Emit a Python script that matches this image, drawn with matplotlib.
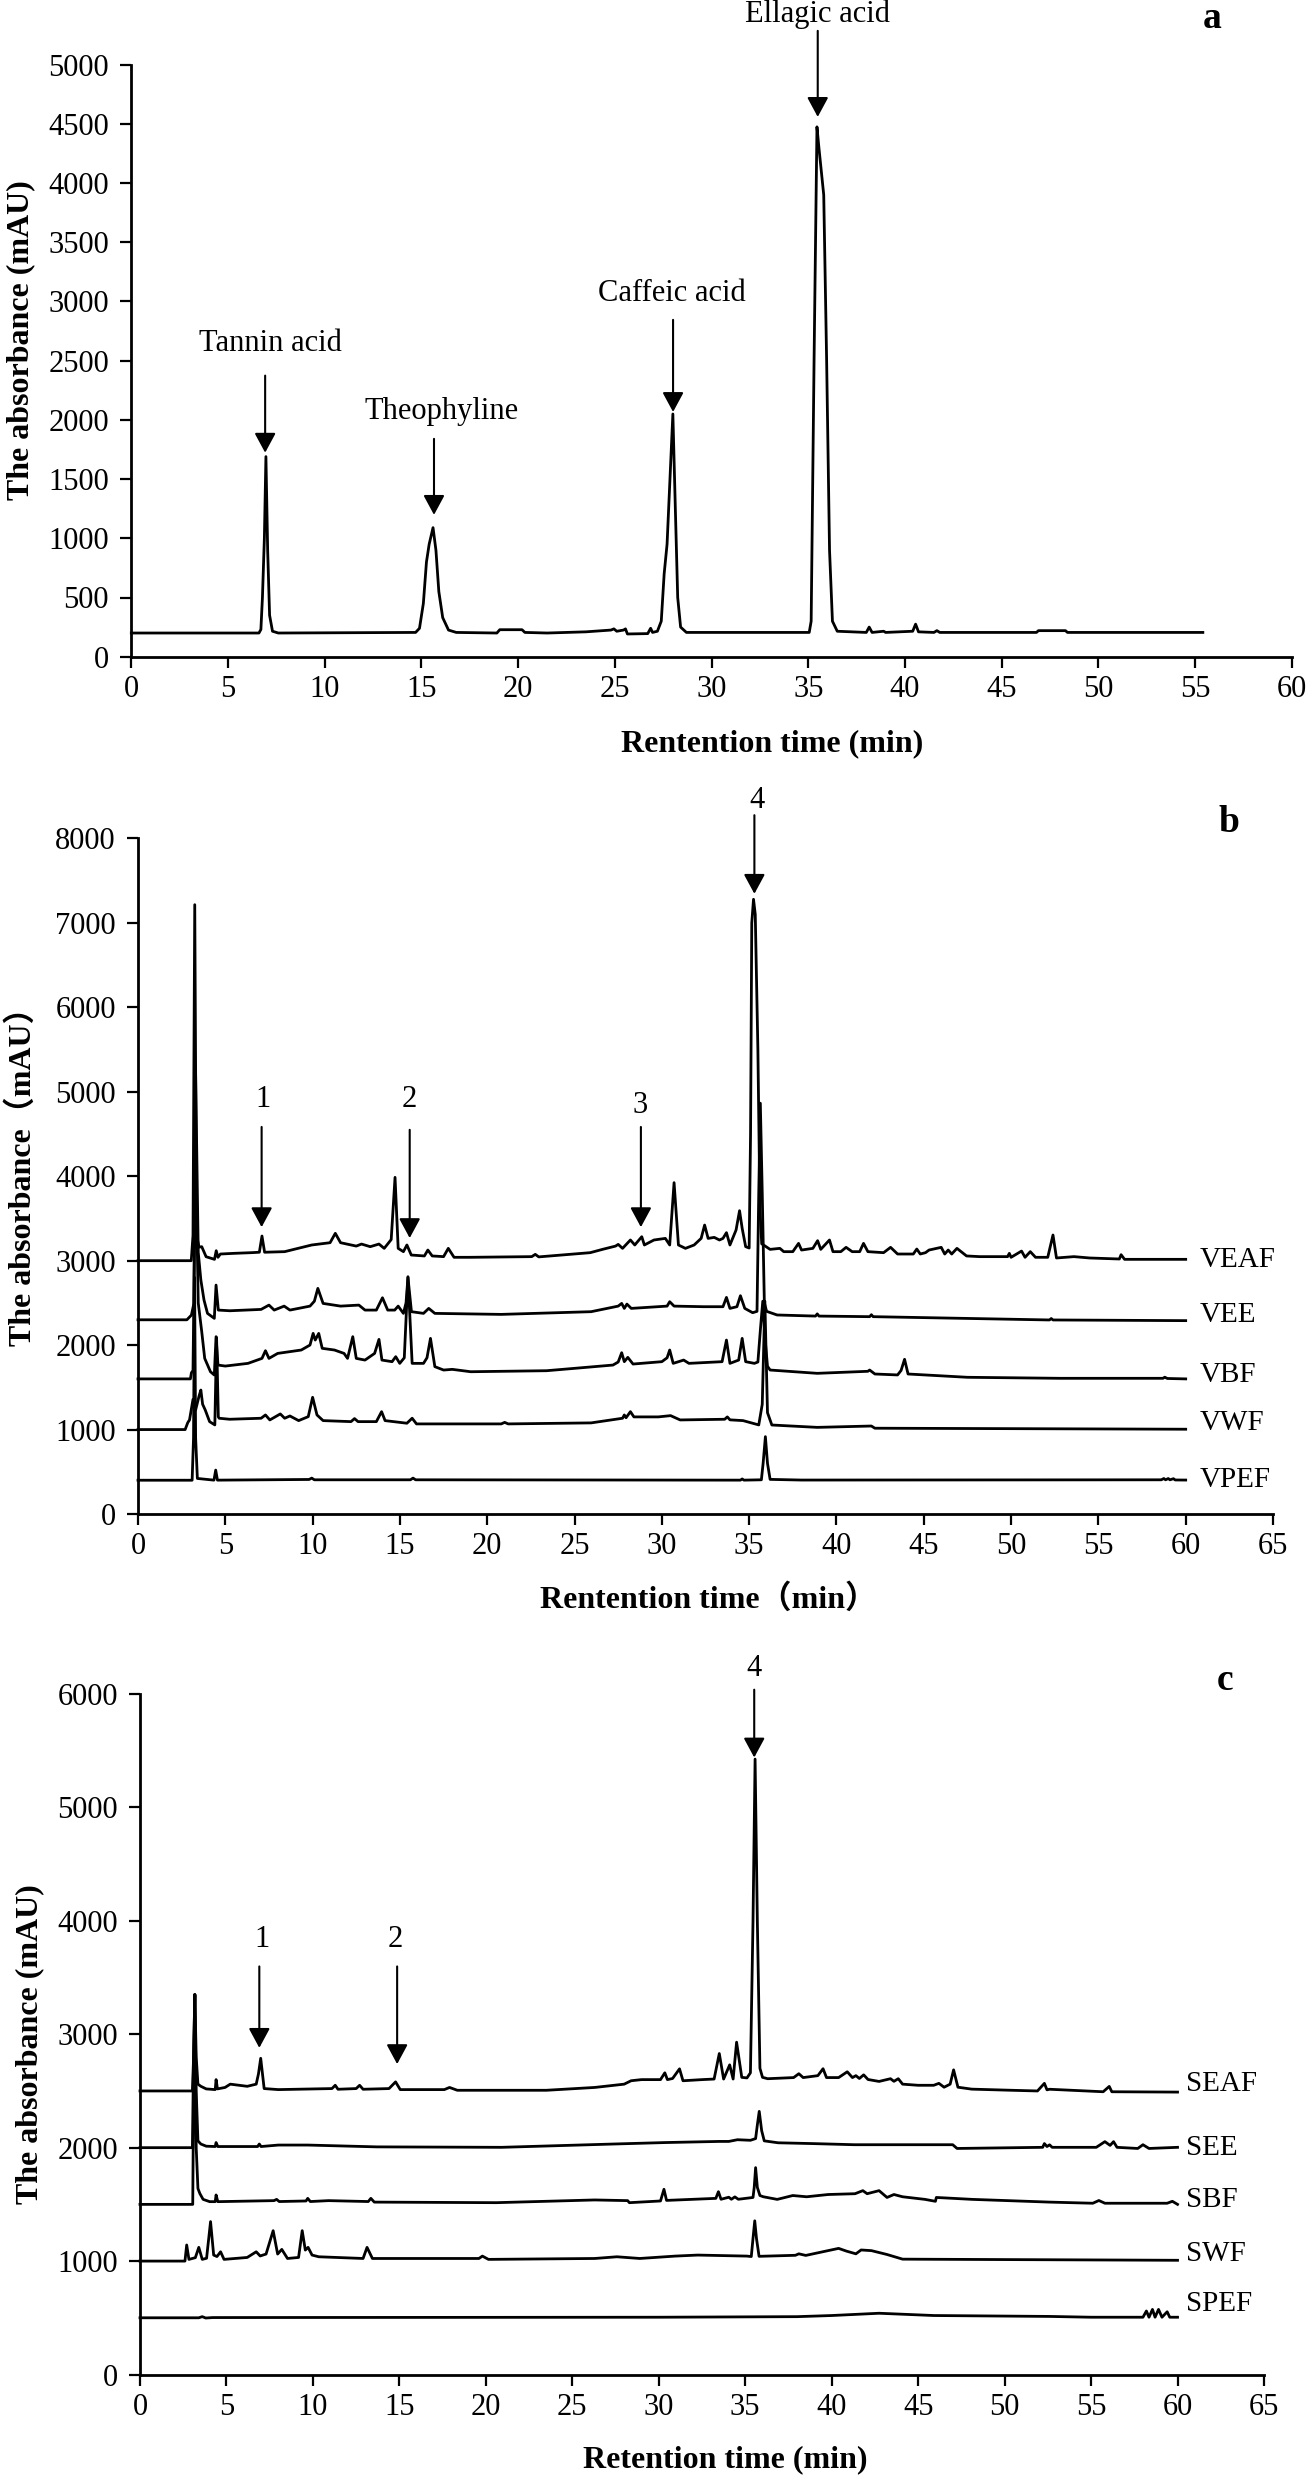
import matplotlib
matplotlib.use('Agg')
import matplotlib.pyplot as plt

# ---------------- data (time in min, absorbance in mAU) ----------------
# Panel a: standards
STD = [(0, 200), (6.6, 200), (6.7, 230), (6.78, 500), (6.88, 1000), (6.96, 1690), (7.05, 900),
       (7.15, 350), (7.3, 215), (7.6, 200),
       (14.7, 205), (14.9, 240), (15.1, 450), (15.26, 800), (15.4, 950), (15.6, 1090), (15.75, 900),
       (15.9, 550), (16.1, 330), (16.4, 225), (16.8, 205),
       (18.9, 200), (19.05, 228), (20.2, 228), (20.35, 205), (21.5, 200), (23.5, 210), (24.8, 225),
       (24.95, 235), (25.1, 215), (25.45, 225), (25.55, 235), (25.65, 192), (26.7, 195), (26.85, 240),
       (26.95, 205), (27.2, 215), (27.4, 300), (27.55, 700), (27.7, 950), (27.85, 1500), (28.0, 2050),
       (28.12, 1300), (28.25, 500), (28.4, 250), (28.7, 205),
       (35.05, 205), (35.15, 300), (35.3, 2500), (35.45, 4475), (35.55, 4300), (35.8, 3900),
       (35.95, 2500), (36.1, 900), (36.25, 300), (36.5, 215),
       (38.0, 205), (38.15, 250), (38.3, 205), (38.9, 215), (39.0, 205), (40.4, 215), (40.55, 275),
       (40.7, 210), (41.5, 205), (41.65, 220), (41.8, 205), (46.8, 205), (46.9, 220), (48.3, 220),
       (48.4, 205), (55.4, 205)]
STD_NAMES = ["Tannin acid", "Theophyline", "Caffeic acid", "Ellagic acid"]
STD_LABEL_POS = [(7.17, 2647), (16.04, 2067), (27.93, 3067), (35.49, 5429)]
STD_ARROWS = [(6.92, 2374, 1723), (15.65, 1840, 1198), (28.01, 2845, 2067), (35.49, 5286, 4559)]

# Panel b: V fractions
VEAF = [(0, 3000), (3.05, 3000), (3.15, 3300), (3.25, 7216), (3.35, 3300), (3.5, 3160), (3.65, 3166),
        (3.9, 3047), (4.38, 3016), (4.48, 3118), (4.58, 3040), (4.72, 3079), (5.5, 3087), (6.5, 3095),
        (6.95, 3100), (7.1, 3292), (7.25, 3100), (8.4, 3107), (9.95, 3186), (11.0, 3213), (11.3, 3324),
        (11.6, 3213), (12.5, 3173), (12.8, 3197), (13.3, 3166), (13.8, 3197), (14.1, 3146), (14.5, 3250),
        (14.72, 3987), (14.9, 3146), (15.2, 3107), (15.4, 3186), (15.65, 3067), (16.4, 3056), (16.6, 3126),
        (16.85, 3056), (17.5, 3048), (17.77, 3146), (18.1, 3040), (19.0, 3040), (22.55, 3048),
        (22.75, 3075), (22.95, 3045), (23.6, 3056), (25.9, 3095), (26.6, 3134), (27.35, 3173),
        (27.5, 3193), (27.75, 3146), (28.2, 3245), (28.45, 3186), (28.85, 3284), (29.0, 3186),
        (29.55, 3245), (30.2, 3264), (30.45, 3186), (30.7, 3924), (30.95, 3186), (31.35, 3146),
        (31.85, 3186), (32.25, 3264), (32.45, 3422), (32.65, 3264), (33.0, 3276), (33.3, 3245),
        (33.5, 3264), (33.7, 3332), (33.9, 3186), (34.25, 3363), (34.45, 3592), (34.6, 3383),
        (34.8, 3166), (35.0, 3150), (35.08, 4500), (35.15, 7000), (35.25, 7280), (35.35, 7100),
        (35.5, 5500), (35.62, 3600), (35.72, 3200), (36.2, 3134), (36.76, 3146), (36.98, 3107),
        (37.5, 3107), (37.83, 3205), (38.0, 3126), (38.65, 3146), (38.92, 3237), (39.1, 3134),
        (39.6, 3245), (39.8, 3107), (40.25, 3107), (40.55, 3158), (40.9, 3107), (41.33, 3107),
        (41.55, 3205), (41.8, 3107), (42.7, 3095), (43.1, 3158), (43.5, 3079), (44.4, 3079),
        (44.6, 3138), (44.8, 3079), (45.1, 3095), (45.3, 3126), (46.0, 3158), (46.2, 3079), (46.4, 3126),
        (46.6, 3079), (46.9, 3146), (47.45, 3056), (48.2, 3048), (49.8, 3048), (49.9, 3087), (50.0, 3040),
        (50.6, 3114), (50.8, 3040), (51.1, 3107), (51.4, 3040), (52.1, 3040), (52.4, 3304), (52.6, 3032),
        (53.6, 3048), (54.5, 3032), (56.2, 3020), (56.3, 3071), (56.5, 3016), (60.0, 3016)]
VEE = [(0, 2300), (2.8, 2300), (3.06, 2356), (3.2, 2494), (3.3, 5200), (3.45, 3100), (3.6, 2770),
       (3.78, 2534), (3.98, 2376), (4.37, 2317), (4.47, 2711), (4.6, 2415), (5.26, 2407), (7.05, 2423),
       (7.5, 2474), (7.8, 2415), (8.37, 2462), (8.7, 2415), (9.85, 2462), (10.1, 2520), (10.3, 2672),
       (10.6, 2494), (11.6, 2462), (12.65, 2474), (13.0, 2415), (13.65, 2415), (14.0, 2561), (14.3, 2415),
       (14.7, 2415), (14.9, 2462), (15.2, 2376), (15.35, 2500), (15.46, 2802), (15.66, 2396),
       (16.35, 2376), (16.65, 2435), (17.0, 2376), (20.8, 2364), (25.95, 2396), (27.5, 2462),
       (27.7, 2494), (27.85, 2435), (28.0, 2486), (28.25, 2435), (30.3, 2462), (30.45, 2514),
       (30.7, 2462), (32.4, 2455), (33.5, 2455), (33.7, 2565), (33.9, 2435), (34.3, 2455), (34.5, 2585),
       (34.75, 2435), (35.2, 2384), (35.45, 2400), (35.55, 3800), (35.64, 4865), (35.75, 3800),
       (35.87, 2500), (36.0, 2400), (36.6, 2357), (38.8, 2344), (38.9, 2370), (39.0, 2344), (41.9, 2337),
       (42.0, 2360), (42.1, 2337), (52.2, 2298), (52.3, 2315), (52.4, 2298), (60.0, 2290)]
VBF = [(0, 1600), (3.0, 1600), (3.06, 1673), (3.15, 1700), (3.3, 4300), (3.45, 2500), (3.65, 2159),
       (3.82, 1843), (4.15, 1685), (4.37, 1646), (4.47, 2100), (4.58, 1764), (5.0, 1752), (6.3, 1784),
       (7.1, 1843), (7.3, 1934), (7.5, 1843), (8.0, 1902), (9.35, 1942), (9.85, 2001), (10.03, 2139),
       (10.15, 2060), (10.35, 2139), (10.55, 1962), (11.25, 1942), (11.8, 1902), (12.0, 1843),
       (12.3, 2100), (12.5, 1843), (13.0, 1823), (13.55, 1902), (13.8, 2068), (13.97, 1823), (14.55, 1804),
       (14.76, 1863), (14.99, 1784), (15.25, 1850), (15.46, 2810), (15.7, 1784), (16.35, 1784),
       (16.55, 1850), (16.75, 2080), (17.0, 1745), (17.5, 1705), (18.0, 1713), (19.05, 1685),
       (23.4, 1697), (25.0, 1725), (27.2, 1764), (27.5, 1800), (27.7, 1910), (27.85, 1804), (28.05, 1855),
       (28.35, 1776), (30.0, 1804), (30.3, 1850), (30.45, 1942), (30.65, 1784), (31.25, 1823),
       (31.55, 1784), (33.45, 1804), (33.7, 2060), (33.9, 1784), (34.4, 1823), (34.6, 2080), (34.8, 1804),
       (35.3, 1784), (35.5, 1800), (35.65, 2200), (35.78, 2520), (35.9, 2100), (36.05, 1750),
       (36.2, 1705), (38.9, 1666), (41.8, 1690), (41.9, 1705), (42.2, 1658), (43.5, 1647), (43.7, 1700),
       (43.9, 1832), (44.1, 1658), (47.5, 1619), (52.8, 1607), (58.7, 1607), (58.8, 1620), (58.95, 1605),
       (60.0, 1600)]
VWF = [(0, 1000), (2.7, 1000), (2.85, 1082), (2.95, 1114), (3.15, 1358), (3.3, 1232), (3.5, 1400),
       (3.6, 1468), (3.7, 1300), (3.85, 1232), (4.1, 1094), (4.4, 1055), (4.5, 2090), (4.6, 1150),
       (4.65, 1134), (5.25, 1122), (7.05, 1134), (7.3, 1173), (7.55, 1114), (8.15, 1185), (8.4, 1134),
       (8.7, 1161), (9.2, 1106), (9.75, 1153), (10.0, 1382), (10.25, 1173), (10.6, 1106), (12.2, 1094),
       (12.4, 1130), (12.6, 1094), (13.65, 1094), (13.95, 1212), (14.15, 1106), (15.4, 1075), (15.7, 1134),
       (15.95, 1067), (17.25, 1067), (20.8, 1067), (21.0, 1085), (21.2, 1067), (25.95, 1079),
       (27.75, 1134), (27.85, 1173), (27.95, 1140), (28.2, 1212), (28.4, 1150), (29.8, 1150), (30.5, 1165),
       (31.05, 1114), (33.6, 1122), (33.75, 1150), (33.9, 1115), (34.65, 1106), (35.55, 1055),
       (35.75, 1300), (35.9, 2520), (36.05, 1200), (36.3, 1054), (38.9, 1026), (42.0, 1042), (42.2, 1016),
       (60.0, 1004)]
VPEF = [(0, 400), (3.1, 400), (3.18, 900), (3.24, 2800), (3.3, 900), (3.4, 421), (4.35, 401),
        (4.45, 520), (4.55, 401), (9.8, 409), (9.95, 425), (10.1, 405), (15.6, 405), (15.75, 425),
        (15.9, 405), (34.5, 401), (34.6, 415), (34.7, 401), (35.7, 405), (35.8, 600), (35.93, 916),
        (36.05, 600), (36.2, 410), (38.0, 402), (58.6, 405), (58.75, 420), (58.85, 405), (59.0, 420),
        (59.1, 405), (59.3, 418), (59.4, 403), (60.0, 402)]
B_NAMES = ["VEAF", "VEE", "VBF", "VWF", "VPEF"]
B_LABEL_Y = [3009, 2358, 1647, 1078, 403]
B_MARKS = ["1", "2", "3", "4"]
B_MARK_POS = [(7.18, 4905), (15.56, 4905), (28.73, 4841), (35.43, 8449)]
B_ARROWS = [(7.08, 4584, 3397), (15.56, 4550, 3268), (28.8, 4584, 3397), (35.3, 8276, 7345)]

# Panel c: S fractions
SEAF = [(0, 2500), (3.03, 2500), (3.1, 2800), (3.17, 3350), (3.25, 2800), (3.35, 2560), (3.52, 2541),
        (3.83, 2518), (4.35, 2512), (4.4, 2600), (4.48, 2518), (4.92, 2531), (5.22, 2560), (6.2, 2541),
        (6.72, 2560), (6.85, 2650), (6.98, 2788), (7.18, 2521), (8.0, 2512), (11.1, 2521), (11.29, 2550),
        (11.45, 2515), (12.5, 2521), (12.7, 2550), (12.9, 2515), (14.4, 2521), (14.78, 2580),
        (15.05, 2512), (17.6, 2512), (17.9, 2531), (18.35, 2506), (23.5, 2506), (26.3, 2531), (28.0, 2560),
        (28.4, 2590), (29.0, 2600), (30.1, 2600), (30.35, 2660), (30.5, 2600), (30.8, 2610), (31.2, 2695),
        (31.4, 2590), (32.5, 2600), (33.2, 2605), (33.5, 2830), (33.75, 2605), (34.1, 2730), (34.3, 2605),
        (34.5, 2930), (34.8, 2620), (35.1, 2615), (35.3, 2660), (35.45, 4000), (35.57, 5426),
        (35.7, 4000), (35.85, 2700), (36.0, 2620), (36.3, 2608), (37.8, 2618), (38.1, 2652),
        (38.35, 2618), (39.2, 2635), (39.5, 2696), (39.7, 2618), (40.4, 2618), (40.9, 2669), (41.2, 2618),
        (41.4, 2635), (41.6, 2610), (41.85, 2642), (42.1, 2601), (42.74, 2584), (43.4, 2608),
        (43.6, 2585), (43.85, 2608), (44.1, 2560), (45.0, 2550), (45.9, 2550), (46.2, 2567), (46.5, 2533),
        (46.85, 2560), (47.05, 2686), (47.3, 2533), (48.1, 2516), (50.4, 2506), (51.9, 2500),
        (52.3, 2567), (52.45, 2510), (52.6, 2515), (55.7, 2493), (56.05, 2540), (56.2, 2493),
        (60.0, 2490)]
SEE = [(0, 2000), (3.03, 2000), (3.1, 2800), (3.17, 3350), (3.25, 2500), (3.35, 2060), (3.52, 2032),
       (3.83, 2013), (4.35, 2010), (4.4, 2045), (4.5, 2010), (6.8, 2010), (6.9, 2032), (7.0, 2010),
       (8.0, 2023), (9.7, 2023), (13.7, 2007), (20.9, 2003), (27.35, 2032), (30.35, 2045), (33.5, 2055),
       (34.05, 2055), (34.55, 2070), (35.3, 2065), (35.6, 2080), (35.7, 2200), (35.81, 2320),
       (35.95, 2150), (36.1, 2060), (36.9, 2043), (38.9, 2036), (41.3, 2026), (47.0, 2026), (47.25, 1993),
       (52.2, 2003), (52.3, 2036), (52.45, 2010), (52.6, 2025), (52.75, 2003), (55.3, 2003), (55.8, 2053),
       (56.1, 2020), (56.3, 2053), (56.5, 2003), (57.7, 1993), (58.0, 2026), (58.35, 1993), (60.0, 2003)]
SBF = [(0, 1500), (3.05, 1500), (3.1, 2500), (3.17, 3350), (3.25, 2000), (3.35, 1640), (3.46, 1596),
       (3.65, 1544), (4.03, 1524), (4.35, 1524), (4.4, 1583), (4.5, 1524), (7.75, 1533), (7.9, 1544),
       (8.05, 1525), (9.6, 1530), (9.7, 1553), (9.85, 1525), (10.9, 1533), (13.2, 1525), (13.35, 1553),
       (13.55, 1520), (20.6, 1515), (26.3, 1539), (28.2, 1533), (28.3, 1515), (30.1, 1530), (30.3, 1633),
       (30.45, 1535), (33.3, 1553), (33.45, 1612), (33.6, 1545), (34.05, 1563), (34.2, 1545),
       (34.4, 1566), (34.6, 1545), (35.45, 1561), (35.52, 1650), (35.6, 1824), (35.7, 1650),
       (35.85, 1578), (36.05, 1567), (36.85, 1544), (37.75, 1578), (38.55, 1567), (39.8, 1587),
       (41.35, 1594), (41.8, 1621), (42.05, 1594), (42.74, 1621), (43.2, 1561), (43.6, 1587),
       (44.1, 1567), (45.4, 1544), (46.0, 1527), (46.05, 1561), (48.14, 1544), (52.6, 1520), (55.1, 1510),
       (55.45, 1534), (55.8, 1510), (59.4, 1510), (59.7, 1527), (60.0, 1500)]
SWF = [(0, 1000), (2.6, 1000), (2.7, 1142), (2.83, 1015), (3.2, 1030), (3.4, 1121), (3.6, 1015),
       (3.85, 1025), (4.08, 1348), (4.26, 1053), (4.45, 1040), (4.66, 1082), (4.86, 1015), (6.2, 1032),
       (6.72, 1082), (6.95, 1045), (7.29, 1062), (7.7, 1268), (7.96, 1062), (8.2, 1103), (8.53, 1023),
       (9.17, 1032), (9.38, 1268), (9.56, 1097), (9.72, 1121), (9.95, 1053), (10.34, 1038), (12.9, 1023),
       (13.13, 1121), (13.44, 1023), (19.6, 1023), (19.8, 1044), (20.15, 1015), (26.3, 1023),
       (27.58, 1038), (28.9, 1023), (30.95, 1044), (32.25, 1053), (35.1, 1044), (35.35, 1040),
       (35.45, 1200), (35.55, 1355), (35.65, 1200), (35.8, 1042), (37.9, 1051), (38.1, 1064), (38.5, 1050),
       (40.4, 1112), (40.85, 1088), (41.4, 1064), (41.7, 1098), (42.3, 1092), (43.2, 1058), (44.1, 1017),
       (60.0, 1007)]
SPEF = [(0, 500), (3.4, 500), (3.6, 510), (3.8, 498), (4.2, 502), (30.0, 505), (38.0, 510), (40.0, 520),
        (42.74, 540), (45.9, 520), (52.6, 512), (55.0, 505), (58.0, 505), (58.2, 560), (58.35, 505),
        (58.55, 574), (58.7, 505), (58.9, 574), (59.1, 505), (59.4, 553), (59.55, 505), (60.0, 505)]
C_NAMES = ["SEAF", "SEE", "SBF", "SWF", "SPEF"]
C_LABEL_Y = [2560, 2000, 1540, 1060, 620]
C_MARKS = ["1", "2", "4"]
C_MARK_POS = [(7.03, 3837), (14.78, 3837), (35.52, 6229)]
C_ARROWS = [(6.9, 3598, 2880), (14.87, 3598, 2737), (35.52, 6038, 5440)]

A_YTICKS = list(range(0, 5001, 500))
A_XTICKS = list(range(0, 61, 5))
B_YTICKS = list(range(0, 8001, 1000))
BC_XTICKS = list(range(0, 66, 5))
C_YTICKS = list(range(0, 6001, 1000))

# ---------------- figure ----------------
W, H = 1311, 2481
SERIF = ['Liberation Serif', 'DejaVu Serif']
CJK = ['Liberation Serif', 'Noto Sans CJK SC', 'DejaVu Sans']
plt.rcParams['font.family'] = SERIF
fig = plt.figure(figsize=(W / 100, H / 100), dpi=100)

TICK_FS = 22
LAB_FS = 23
ANN_FS = 22
LW = 2.0


def make_axes(left, right, bottom_px, top_px):
    ax = fig.add_axes([left / W, 1 - bottom_px / H, (right - left) / W, (bottom_px - top_px) / H])
    for s in ('top', 'right'):
        ax.spines[s].set_visible(False)
    for s in ('left', 'bottom'):
        ax.spines[s].set_linewidth(2.0)
    ax.tick_params(direction='out', length=8, width=1.6, labelsize=TICK_FS)
    ax.tick_params(axis='x', pad=5)
    ax.tick_params(axis='y', pad=8)
    return ax


def draw(ax, pts):
    ax.plot([p[0] for p in pts], [p[1] for p in pts], color='black', lw=LW,
            solid_joinstyle='round', clip_on=False)


def arrow(ax, x, tail, tip):
    ax.annotate('', xy=(x, tip), xytext=(x, tail), annotation_clip=False,
                arrowprops=dict(arrowstyle='-|>,head_length=0.5,head_width=0.27',
                                mutation_scale=24, color='black', lw=1.5,
                                shrinkA=0, shrinkB=0))


# Panel a
ax = make_axes(131.3, 1291.8, 656.7, 64.7)
ax.set_xlim(0, 60)
ax.set_ylim(0, 5000)
ax.set_xticks(A_XTICKS)
ax.set_yticks(A_YTICKS)
draw(ax, STD)
for name, (tx, ty), (ax_x, tl, tp) in zip(STD_NAMES, STD_LABEL_POS, STD_ARROWS):
    ax.text(tx, ty, name, ha='center', va='center', fontsize=ANN_FS, clip_on=False)
    arrow(ax, ax_x, tl, tp)
fig.text(1212 / W, 1 - 18 / H, 'a', ha='center', va='center', fontsize=27, fontweight='bold')
fig.text(21 / W, 1 - 340 / H, 'The absorbance (mAU)', rotation=90, ha='center', va='center',
         fontsize=LAB_FS, fontweight='bold')
fig.text(772 / W, 1 - 744 / H, 'Rentention time (min)', ha='center', va='center',
         fontsize=LAB_FS, fontweight='bold')

# Panel b
ax = make_axes(138, 1273, 1514, 838.5)
ax.set_xlim(0, 65)
ax.set_ylim(0, 8000)
ax.set_xticks(BC_XTICKS)
ax.set_yticks(B_YTICKS)
for pts in (VPEF, VWF, VBF, VEE, VEAF):
    draw(ax, pts)
for name, ly in zip(B_NAMES, B_LABEL_Y):
    ax.text(60.8, ly, name, ha='left', va='center', fontsize=21, clip_on=False)
for m, (tx, ty), (ax_x, tl, tp) in zip(B_MARKS, B_MARK_POS, B_ARROWS):
    ax.text(tx, ty, m, ha='center', va='center', fontsize=ANN_FS, clip_on=False)
    arrow(ax, ax_x, tl, tp)
fig.text(1229 / W, 1 - 823 / H, 'b', ha='center', va='center', fontsize=27, fontweight='bold')
fig.text(22 / W, 1 - 1169 / H, 'The absorbance（mAU）', rotation=90, ha='center', va='center',
         fontsize=LAB_FS, fontweight='bold', family=CJK)
fig.text(709 / W, 1 - 1599 / H, 'Rentention time（min）', ha='center', va='center',
         fontsize=LAB_FS, fontweight='bold', family=CJK)

# Panel c
ax = make_axes(140, 1264, 2374.5, 1694)
ax.set_xlim(0, 65)
ax.set_ylim(0, 6000)
ax.set_xticks(BC_XTICKS)
ax.set_yticks(C_YTICKS)
for pts in (SPEF, SWF, SBF, SEE, SEAF):
    draw(ax, pts)
for name, ly in zip(C_NAMES, C_LABEL_Y):
    ax.text(60.5, ly, name, ha='left', va='center', fontsize=21, clip_on=False)
for m, (tx, ty), (ax_x, tl, tp) in zip(C_MARKS, C_MARK_POS, C_ARROWS):
    ax.text(tx, ty, m, ha='center', va='center', fontsize=ANN_FS, clip_on=False)
    arrow(ax, ax_x, tl, tp)
fig.text(1225 / W, 1 - 1681 / H, 'c', ha='center', va='center', fontsize=27, fontweight='bold')
fig.text(30 / W, 1 - 2044 / H, 'The absorbance (mAU)', rotation=90, ha='center', va='center',
         fontsize=LAB_FS, fontweight='bold')
fig.text(725 / W, 1 - 2460 / H, 'Retention time (min)', ha='center', va='center',
         fontsize=LAB_FS, fontweight='bold')

fig.savefig('out.png', dpi=100, facecolor='white')
